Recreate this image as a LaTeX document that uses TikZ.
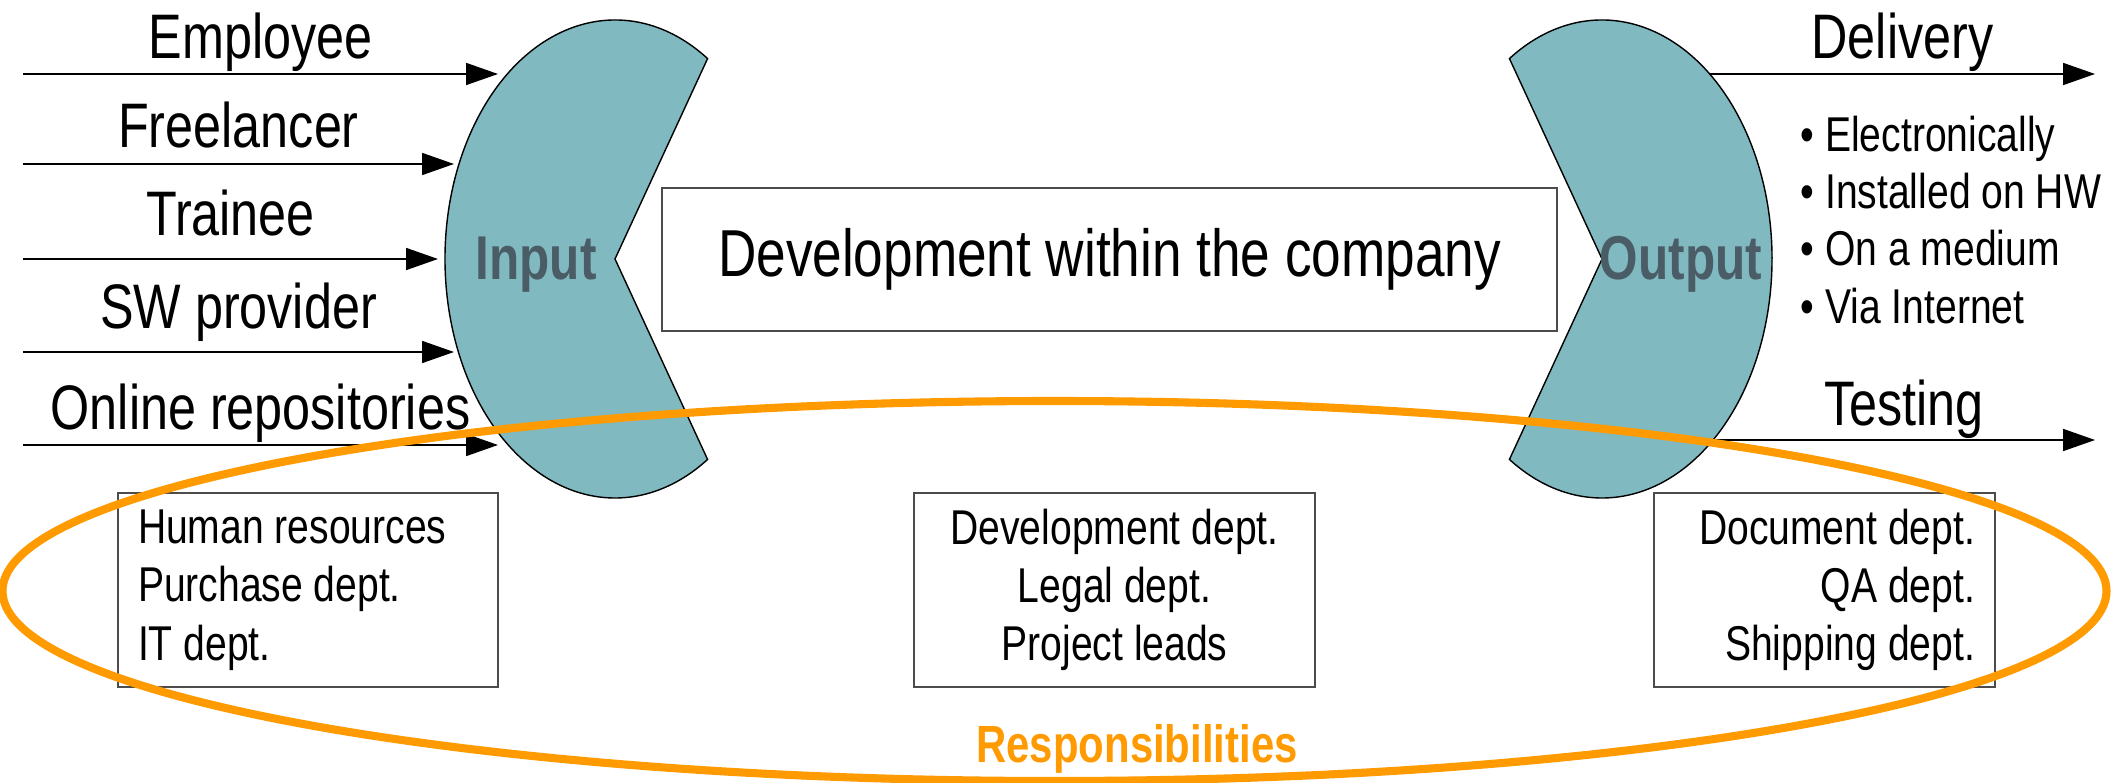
\documentclass[tikz,border=0pt]{standalone}
\usepackage{fontspec}
\setmainfont[FakeStretch=0.80]{Liberation Sans}
\usetikzlibrary{arrows.meta}

\begin{document}
\begin{tikzpicture}[
  flow/.style={line width=0.5pt,-{Triangle[length=0.32cm,width=0.22cm]}},
  big/.style={font=\fontsize{17.9}{20}\selectfont,inner sep=0pt,anchor=base},
  small/.style={font=\fontsize{13.9}{16.6}\selectfont},
  dept/.style={small,draw=black!70,line width=0.5pt,minimum height=1.94cm,inner xsep=0.2cm},
  pacman/.style={fill=wedge,draw=black,line width=0.4pt},
  tag/.style={font=\bfseries\fontsize{17.6}{20}\selectfont,text=tagtext,inner sep=0pt,anchor=base}]
  \definecolor{wedge}{HTML}{80B9C0}
  \definecolor{tagtext}{HTML}{4A5C66}
  \definecolor{resp}{HTML}{FF9A00}
  \useasboundingbox (0,0) rectangle (21.11,7.82);

  % input and output wedges
  \coordinate (in-c) at (6.15,5.23);
  \coordinate (out-c) at (16.02,5.23);
  \draw[pacman] (in-c) -- ++(57:1.70 and 2.39)
    arc[start angle=57,end angle=303,x radius=1.70,y radius=2.39] -- cycle;
  \draw[pacman] (out-c) -- ++(123:1.70 and 2.39)
    arc[start angle=123,end angle=-123,x radius=1.70,y radius=2.39] -- cycle;
  \node[tag] (in) at (5.36,5.02) {Input};
  \node[tag] (out) at (16.81,5.02) {Output};

  \node[draw=black!70,line width=0.5pt,minimum width=8.95cm,minimum height=1.43cm,
    font=\fontsize{18.9}{22}\selectfont] (dev) at (11.095,5.225) {Development within the company};

  % sources
  \foreach \name/\txt/\y/\tip/\gap in {emp/Employee/7.08/4.98/0.15cm,
      free/Freelancer/6.18/4.54/0.16cm, train/Trainee/5.23/4.38/0.23cm,
      swp/SW provider/4.30/4.54/0.23cm, repo/Online repositories/3.37/4.98/0.16cm}
  {
    \coordinate (\name-from) at (0.23,\y);
    \coordinate (\name-to) at (\tip,\y);
    \draw[flow] (\name-from) -- node[big,yshift=\gap] (\name) {\txt} (\name-to);
  }

  % results
  \coordinate (dlv-from) at (17.10,7.08);
  \coordinate (dlv-to) at (20.95,7.08);
  \draw[flow] (dlv-from) -- node[big,yshift=0.15cm] (dlv) {Delivery} (dlv-to);
  \coordinate (tst-from) at (17.13,3.42);
  \coordinate (tst-to) at (20.95,3.42);
  \draw[flow] (tst-from) -- node[big,yshift=0.15cm] (tst) {Testing} (tst-to);
  \foreach \txt [count=\i] in {Electronically,Installed on HW,On a medium,Via Internet}
    \node[small,anchor=base west,inner sep=0pt] (way\i) at (18.0,{6.30-0.57*(\i-1)}) {\textbullet\ \txt};

  % departments
  \node[dept,text width=3.40cm,align=flush left] (supply) at (3.08,1.92)
    {Human resources\\Purchase dept.\\IT dept.};
  \node[dept,text width=3.61cm,align=flush center] (staff) at (11.145,1.92)
    {Development dept.\\Legal dept.\\Project leads};
  \node[dept,text width=3.01cm,align=flush right] (ship) at (18.245,1.92)
    {Document dept.\\QA dept.\\Shipping dept.};

  \draw[resp,line width=2.3pt] (10.545,1.91) ellipse [x radius=10.52,y radius=1.90];
  \node[font=\bfseries\fontsize{14.9}{17}\selectfont,text=resp,inner sep=0pt,anchor=base]
    (respons) at (11.37,0.20) {Responsibilities};
\end{tikzpicture}
\end{document}
